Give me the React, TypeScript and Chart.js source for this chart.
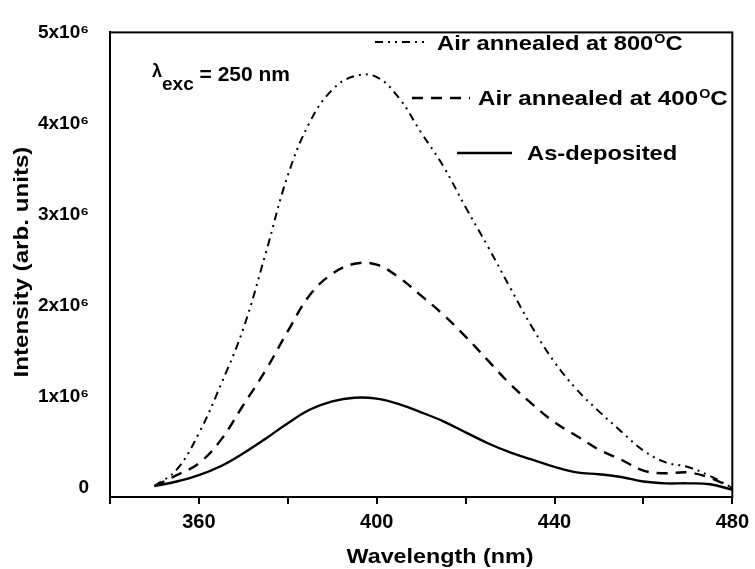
import React, { useEffect, useRef } from "react";
import { Chart, registerables } from "chart.js";

Chart.register(...registerables);

// Wavelength (nm)
const wavelengths = [350, 355, 360, 365, 370, 375, 380, 385, 390, 395, 400, 405, 410, 415, 420, 425, 430, 435, 440, 445, 450, 455, 460, 465, 470, 475, 480];
// Intensity in units of 10^6
const asDeposited = [0.02, 0.07, 0.14, 0.24, 0.38, 0.54, 0.71, 0.86, 0.95, 0.99, 0.98, 0.92, 0.83, 0.73, 0.61, 0.49, 0.39, 0.31, 0.23, 0.17, 0.15, 0.12, 0.07, 0.05, 0.05, 0.04, -0.02];
const annealed400 = [0.02, 0.14, 0.27, 0.53, 0.91, 1.29, 1.72, 2.12, 2.35, 2.46, 2.45, 2.31, 2.11, 1.90, 1.66, 1.40, 1.14, 0.92, 0.72, 0.57, 0.42, 0.31, 0.19, 0.16, 0.17, 0.11, 0.0];
const annealed800 = [0.02, 0.20, 0.60, 1.14, 1.75, 2.57, 3.43, 4.02, 4.37, 4.52, 4.51, 4.28, 3.90, 3.53, 3.08, 2.65, 2.20, 1.76, 1.38, 1.08, 0.84, 0.62, 0.41, 0.28, 0.23, 0.13, 0.0];

const seriesLabels = ["Air annealed at 800", "Air annealed at 400", "As-deposited"];
const seriesSup = ["O", "O", ""];
const seriesSuffix = ["C", "C", ""];

const xLabeledTicks = [360, 400, 440, 480];
const yTickValues = [0, 1, 2, 3, 4, 5];
const yTickLabels = ["0", "1x10\u2076", "2x10\u2076", "3x10\u2076", "4x10\u2076", "5x10\u2076"];

const FONT = '"Liberation Sans", Arial, sans-serif';

const DASH_800 = [8, 5, 2, 5, 2, 5];
const DASH_400 = [11, 8];

function txt(ctx: CanvasRenderingContext2D, s: string, x: number, y: number, size: number, sx = 1, align: CanvasTextAlign = "left") {
  ctx.save();
  ctx.translate(x, y);
  ctx.scale(sx, 1);
  ctx.font = `bold ${size}px ${FONT}`;
  ctx.textAlign = align;
  ctx.textBaseline = "alphabetic";
  ctx.fillStyle = "#000";
  ctx.fillText(s, 0, 0);
  const w = ctx.measureText(s).width * sx;
  ctx.restore();
  return w;
}

const decorPlugin = {
  id: "decor",
  afterDraw(chart: any) {
    const ctx: CanvasRenderingContext2D = chart.ctx;
    const { left, right, top, bottom } = chart.chartArea;
    ctx.save();
    ctx.strokeStyle = "#000";
    ctx.lineWidth = 2;
    ctx.setLineDash([]);
    ctx.strokeRect(left, top, right - left, bottom - top);

    // legend
    const rows = [
      { dash: DASH_800, x1: 375, x2: 428, y: 42, tx: 437, base: 50, sx: 1.13 },
      { dash: DASH_400, x1: 412, x2: 470, y: 98, tx: 478, base: 105, sx: 1.15 },
      { dash: [] as number[], x1: 457, x2: 512, y: 153, tx: 527, base: 160, sx: 1.13 },
    ];
    rows.forEach((r, i) => {
      ctx.save();
      ctx.strokeStyle = "#000";
      ctx.lineWidth = i === 0 ? 2 : 2.4;
      ctx.setLineDash(r.dash);
      ctx.beginPath();
      ctx.moveTo(r.x1, r.y);
      ctx.lineTo(r.x2, r.y);
      ctx.stroke();
      ctx.restore();
      let x = r.tx;
      x += txt(ctx, seriesLabels[i], x, r.base, 21, r.sx);
      if (seriesSup[i]) {
        x += txt(ctx, seriesSup[i], x + 1, r.base - 7, 13, 1.1) + 1;
        txt(ctx, seriesSuffix[i], x, r.base, 21, r.sx);
      }
    });

    // excitation annotation
    let ax = 152;
    ax += txt(ctx, "\u03bb", ax, 77, 18, 1);
    ax += txt(ctx, "exc", ax, 90, 19, 1);
    txt(ctx, " = 250 nm", ax, 81, 21, 1);

    // axis titles
    txt(ctx, "Wavelength (nm)", 440, 563, 21, 1.11, "center");
    ctx.save();
    ctx.translate(28, 262);
    ctx.rotate(-Math.PI / 2);
    txt(ctx, "Intensity (arb. units)", 0, 0, 21, 1.15, "center");
    ctx.restore();
    ctx.restore();
  },
};

export default function App() {
  const ref = useRef<HTMLCanvasElement | null>(null);
  useEffect(() => {
    if (!ref.current) return;
    const mk = (vals: number[]) => wavelengths.map((w, i) => ({ x: w, y: vals[i] }));
    const chart = new Chart(ref.current, {
      type: "line",
      data: {
        datasets: [
          { label: seriesLabels[0], data: mk(annealed800), borderColor: "#000", borderWidth: 2, borderDash: DASH_800, pointRadius: 0, tension: 0.4, fill: false },
          { label: seriesLabels[1], data: mk(annealed400), borderColor: "#000", borderWidth: 2.4, borderDash: DASH_400, pointRadius: 0, tension: 0.4, fill: false },
          { label: seriesLabels[2], data: mk(asDeposited), borderColor: "#000", borderWidth: 2.4, pointRadius: 0, tension: 0.4, fill: false },
        ],
      },
      options: {
        animation: false,
        responsive: false,
        maintainAspectRatio: false,
        layout: { padding: { top: 22, right: 18, left: 0, bottom: 0 } },
        plugins: { legend: { display: false }, tooltip: { enabled: false } },
        scales: {
          x: {
            type: "linear",
            min: 340,
            max: 480,
            afterFit: (s: any) => { s.height = 72; },
            ticks: {
              stepSize: 20,
              autoSkip: false,
              maxRotation: 0,
              padding: 6,
              color: "#000",
              font: { family: FONT, size: 20, weight: "bold" },
              callback: (v: any) => (xLabeledTicks.includes(Number(v)) ? String(v) : ""),
            },
            grid: { drawOnChartArea: false, drawTicks: true, tickLength: 7, color: "#000", lineWidth: 2 },
            border: { display: true, color: "#000", width: 2 },
          },
          y: {
            type: "linear",
            min: -0.1,
            max: 5,
            afterFit: (s: any) => { s.width = 110; },
            afterBuildTicks: (s: any) => { s.ticks = yTickValues.map((v) => ({ value: v })); },
            ticks: {
              padding: 21,
              color: "#000",
              font: { family: FONT, size: 19, weight: "bold" },
              callback: (v: any) => {
                const i = yTickValues.indexOf(Number(v));
                return i >= 0 ? yTickLabels[i] : "";
              },
            },
            grid: { drawOnChartArea: false, drawTicks: false, color: "#000", lineWidth: 2 },
            border: { display: true, color: "#000", width: 2 },
          },
        },
      },
      plugins: [decorPlugin],
    } as any);
    return () => chart.destroy();
  }, []);
  return (
    <div style={{ position: "fixed", left: 0, top: 0, width: 755, height: 569, background: "#fff" }}>
      <canvas ref={ref} width={755} height={569} style={{ display: "block", width: 755, height: 569 }} />
    </div>
  );
}
